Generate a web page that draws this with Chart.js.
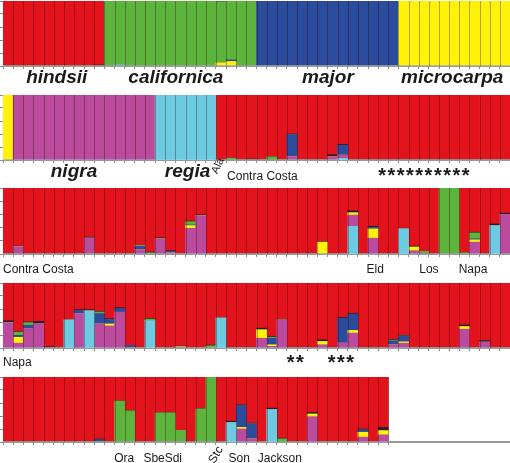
<!DOCTYPE html>
<html>
<head>
<meta charset="utf-8">
<script src="https://cdn.jsdelivr.net/npm/chart.js@4.4.1/dist/chart.umd.min.js"></script>
<style>
  html, body { margin: 0; padding: 0; background: #fff; width: 510px; height: 463px; overflow: hidden; }
  .row { position: absolute; left: 0; width: 510px; height: 93px; }
</style>
</head>
<body>
<div class="row" id="row0"><canvas id="c0"></canvas></div>
<div class="row" id="row1"><canvas id="c1"></canvas></div>
<div class="row" id="row2"><canvas id="c2"></canvas></div>
<div class="row" id="row3"><canvas id="c3"></canvas></div>
<div class="row" id="row4"><canvas id="c4"></canvas></div>
<script>
// stacking order, bottom -> top
const CLUSTERS = ['cyan', 'magenta', 'yellow', 'blue', 'green', 'dark', 'red'];
const COLORS = {
    red: '#e3131d', green: '#5db43c', blue: '#2b4b9d', yellow: '#fff10a',
    magenta: '#bb4b9c', cyan: '#6dcbe1', dark: '#2a1c24',
};
const BASE_KEY = { R: 'red', G: 'green', B: 'blue', Y: 'yellow', M: 'magenta', C: 'cyan' };
const N_SLOTS = 50;

// dominant cluster of each individual, one letter per bar
const ROW1_BASE = 'RRRRRRRRRR' + 'GGGGGGGGGGGGGGG' + 'BBBBBBBBBBBBBB' + 'YYYYYYYYYYY';
const ROW2_BASE = 'Y' + 'MMMMMMMMMMMMMM' + 'CCCCCC' + 'RRRRRRRRRRRRRRRRRRRRRRRRRRRRR';
const ROW3_BASE = 'RRRRRRRRRRRRRRRRRRRRRRRRRRRRRRRRRRRRRRRRRRR' + 'GG' + 'RRRRR';
const ROW4_BASE = 'RRRRRRRRRRRRRRRRRRRRRRRRRRRRRRRRRRRRRRRRRRRRRRRRRR';
const ROW5_BASE = 'RRRRRRRRRRRRRRRRRRRR' + 'G' + 'RRRRRRRRRRRRRRRRR';

// admixed shares per bar: [bar index, {cluster: proportion}]
const ROW1_ADMIX = [
    [9, { dark: 0.015 }],
    [11, { cyan: 0.015 }],
    [21, { yellow: 0.05, dark: 0.01 }],
    [22, { yellow: 0.07, blue: 0.025 }],
];
const ROW2_ADMIX = [
    [22, { green: 0.03 }],
    [24, { dark: 0.015 }],
    [26, { green: 0.05 }],
    [28, { magenta: 0.05, blue: 0.34, dark: 0.01 }],
    [32, { magenta: 0.05, dark: 0.03 }],
    [33, { cyan: 0.025, magenta: 0.05, blue: 0.15, dark: 0.015 }],
];
const ROW3_ADMIX = [
    [1, { magenta: 0.11, dark: 0.01 }],
    [8, { magenta: 0.24, dark: 0.015 }],
    [10, { dark: 0.01 }],
    [13, { magenta: 0.065, blue: 0.05, green: 0.015 }],
    [14, { green: 0.02, dark: 0.01 }],
    [15, { magenta: 0.23, dark: 0.015 }],
    [16, { magenta: 0.02, blue: 0.02, dark: 0.01 }],
    [17, { green: 0.01 }],
    [18, { magenta: 0.39, yellow: 0.04, blue: 0.01, green: 0.05, dark: 0.01 }],
    [19, { magenta: 0.58, dark: 0.015 }],
    [21, { green: 0.01 }],
    [24, { dark: 0.01 }],
    [31, { yellow: 0.18, dark: 0.01 }],
    [34, { cyan: 0.42, magenta: 0.17, yellow: 0.035, dark: 0.03 }],
    [36, { magenta: 0.24, yellow: 0.14, blue: 0.02, dark: 0.02 }],
    [39, { cyan: 0.38, dark: 0.01 }],
    [40, { magenta: 0.05, yellow: 0.055, dark: 0.015 }],
    [41, { magenta: 0.01, green: 0.03 }],
    [45, { green: 0.02 }],
    [46, { magenta: 0.18, yellow: 0.035, blue: 0.015, green: 0.09, dark: 0.01 }],
    [48, { cyan: 0.43, dark: 0.025 }],
    [49, { magenta: 0.6, dark: 0.02 }],
];
const ROW4_ADMIX = [
    [0, { magenta: 0.39, dark: 0.03 }],
    [1, { magenta: 0.075, yellow: 0.09, blue: 0.03, green: 0.05, dark: 0.01 }],
    [2, { magenta: 0.3, blue: 0.05, green: 0.04, dark: 0.01 }],
    [3, { magenta: 0.38, dark: 0.03 }],
    [4, { magenta: 0.01, dark: 0.01 }],
    [6, { cyan: 0.43, dark: 0.01 }],
    [7, { magenta: 0.53, blue: 0.05, dark: 0.01 }],
    [8, { cyan: 0.57, dark: 0.02 }],
    [9, { magenta: 0.37, blue: 0.16, green: 0.025, dark: 0.01 }],
    [10, { magenta: 0.34, yellow: 0.03, blue: 0.07, dark: 0.01 }],
    [11, { magenta: 0.55, blue: 0.06, dark: 0.01 }],
    [12, { magenta: 0.01, blue: 0.03 }],
    [14, { cyan: 0.42, green: 0.025, dark: 0.01 }],
    [16, { dark: 0.01 }],
    [17, { magenta: 0.01, yellow: 0.01, dark: 0.01 }],
    [20, { green: 0.035, dark: 0.01 }],
    [21, { cyan: 0.46, dark: 0.01 }],
    [22, { dark: 0.01 }],
    [25, { magenta: 0.15, yellow: 0.13, dark: 0.025 }],
    [26, { magenta: 0.025, yellow: 0.025, blue: 0.1, green: 0.015, dark: 0.01 }],
    [27, { magenta: 0.43, dark: 0.01 }],
    [31, { magenta: 0.05, yellow: 0.05, dark: 0.025 }],
    [33, { magenta: 0.075, blue: 0.38, dark: 0.015 }],
    [34, { magenta: 0.23, yellow: 0.04, blue: 0.25, dark: 0.015 }],
    [36, { dark: 0.01 }],
    [38, { magenta: 0.05, blue: 0.06, green: 0.01, dark: 0.01 }],
    [39, { magenta: 0.075, yellow: 0.02, blue: 0.09, dark: 0.01 }],
    [45, { magenta: 0.29, yellow: 0.04, dark: 0.025 }],
    [47, { magenta: 0.09, dark: 0.025 }],
];
const ROW5_ADMIX = [
    [9, { blue: 0.03, dark: 0.015 }],
    [11, { green: 0.63 }],
    [12, { green: 0.48 }],
    [15, { green: 0.45 }],
    [16, { green: 0.45 }],
    [17, { green: 0.18 }],
    [19, { green: 0.51 }],
    [22, { cyan: 0.3, dark: 0.02 }],
    [23, { magenta: 0.2, yellow: 0.025, blue: 0.33, dark: 0.015 }],
    [24, { magenta: 0.05, blue: 0.23, dark: 0.01 }],
    [26, { cyan: 0.5, dark: 0.02 }],
    [27, { green: 0.05, dark: 0.01 }],
    [30, { magenta: 0.39, yellow: 0.04, dark: 0.025 }],
    [35, { magenta: 0.075, yellow: 0.075, blue: 0.035, dark: 0.015 }],
    [37, { magenta: 0.11, yellow: 0.065, dark: 0.05 }],
];

// text under each row; "at" is measured in bar widths from the left edge
const BIG = 'italic bold 19px "Liberation Sans", Arial, sans-serif';
const SMALL = '12px "Liberation Sans", Arial, sans-serif';
const STARS = 'bold 20px "Liberation Sans", Arial, sans-serif';
const ROW1_TEXT = [
    { text: 'hindsii', at: 5.3, dy: 17, font: BIG },
    { text: 'californica', at: 17.05, dy: 17, font: BIG },
    { text: 'major', at: 32.05, dy: 17, font: BIG },
    { text: 'microcarpa', at: 44.3, dy: 17, font: BIG },
];
const ROW2_TEXT = [
    { text: 'nigra', at: 7.0, dy: 17, font: BIG },
    { text: 'regia', at: 18.2, dy: 17, font: BIG },
    { text: 'Ala', at: 21.2, dy: 6, font: '11px "Liberation Sans", Arial, sans-serif', rot: -65, mid: true },
    { text: 'Contra Costa', at: 22.1, dy: 20, font: SMALL, align: 'left' },
    { text: '**********', at: 37.0, dy: 22, font: STARS, align: 'left', spacing: 1.5 },
];
const ROW3_TEXT = [
    { text: 'Contra Costa', at: 0, dy: 19, font: SMALL, align: 'left' },
    { text: 'Eld', at: 36.7, dy: 19, font: SMALL },
    { text: 'Los', at: 42.0, dy: 19, font: SMALL },
    { text: 'Napa', at: 46.35, dy: 19, font: SMALL },
];
const ROW4_TEXT = [
    { text: 'Napa', at: 0, dy: 18, font: SMALL, align: 'left' },
    { text: '**', at: 28.9, dy: 21, font: STARS, spacing: 1.5 },
    { text: '***', at: 33.4, dy: 21, font: STARS, spacing: 1.5 },
];
const ROW5_TEXT = [
    { text: 'Ora', at: 11.95, dy: 19.5, font: SMALL },
    { text: 'Sbe', at: 14.9, dy: 19.5, font: SMALL },
    { text: 'Sdi', at: 16.8, dy: 19.5, font: SMALL },
    { text: 'Stc', at: 21.0, dy: 13, font: SMALL, rot: -60, mid: true },
    { text: 'Son', at: 23.3, dy: 19.5, font: SMALL },
    { text: 'Jackson', at: 27.3, dy: 19.5, font: SMALL },
];

const ROWS = [
    { base: ROW1_BASE, admix: ROW1_ADMIX, text: ROW1_TEXT, top: 1, axis: 66 },
    { base: ROW2_BASE, admix: ROW2_ADMIX, text: ROW2_TEXT, top: 95, axis: 160 },
    { base: ROW3_BASE, admix: ROW3_ADMIX, text: ROW3_TEXT, top: 188, axis: 254 },
    { base: ROW4_BASE, admix: ROW4_ADMIX, text: ROW4_TEXT, top: 283, axis: 348 },
    { base: ROW5_BASE, admix: ROW5_ADMIX, text: ROW5_TEXT, top: 377, axis: 442 },
];

function buildSeries(base, admix) {
    const series = {};
    for (const k of CLUSTERS) series[k] = new Array(N_SLOTS).fill(0);
    const mixAt = new Map(admix);
    for (let i = 0; i < base.length; i++) {
        const mix = mixAt.get(i) || {};
        let rest = 1;
        for (const k in mix) { series[k][i] += mix[k]; rest -= mix[k]; }
        series[BASE_KEY[base[i]]][i] += rest;
    }
    return series;
}

// thin dark lines between individuals
const separators = {
    id: 'separators',
    afterDatasetsDraw(chart, args, opts) {
        const { ctx, chartArea: a } = chart;
        const w = (a.right - a.left) / N_SLOTS;
        ctx.save();
        ctx.strokeStyle = 'rgba(40,0,0,0.32)';
        ctx.lineWidth = 1;
        ctx.beginPath();
        for (let i = 1; i <= opts.count; i++) {
            const x = Math.round(a.left + i * w) + 0.5;
            ctx.moveTo(x, a.top);
            ctx.lineTo(x, a.bottom);
        }
        ctx.stroke();
        ctx.restore();
    },
};

const rowText = {
    id: 'rowText',
    afterDraw(chart, args, opts) {
        const { ctx, chartArea: a } = chart;
        const w = (a.right - a.left) / N_SLOTS;
        ctx.save();
        ctx.fillStyle = '#1a1a1a';
        for (const t of opts.items) {
            const x = a.left + t.at * w;
            const y = a.bottom + t.dy;
            ctx.font = t.font;
            ctx.letterSpacing = (t.spacing || 0) + 'px';
            ctx.textAlign = t.align || 'center';
            ctx.textBaseline = t.mid ? 'middle' : 'alphabetic';
            ctx.save();
            ctx.translate(x, y);
            if (t.rot) ctx.rotate(t.rot * Math.PI / 180);
            ctx.fillText(t.text, 0, 0);
            ctx.restore();
        }
        ctx.restore();
    },
};

ROWS.forEach((row, r) => {
    const box = document.getElementById('row' + r);
    box.style.top = (row.top - 1) + 'px';
    const padBottom = 93 - 1 - (row.axis - row.top) - 3;
    const series = buildSeries(row.base, row.admix);
    const n = row.base.length;
    const labels = Array.from({ length: N_SLOTS }, (_, i) => String(i + 1));

    new Chart(document.getElementById('c' + r), {
        type: 'bar',
        data: {
            labels,
            datasets: CLUSTERS.map(k => ({
                label: k,
                data: series[k],
                backgroundColor: COLORS[k],
                borderWidth: 0,
                barPercentage: 1,
                categoryPercentage: 1,
            })),
        },
        options: {
            animation: false,
            responsive: true,
            maintainAspectRatio: false,
            events: [],
            layout: { padding: { top: 1, left: 0, right: 0, bottom: padBottom } },
            plugins: {
                legend: { display: false },
                tooltip: { enabled: false },
                separators: { count: n },
                rowText: { items: row.text },
            },
            scales: {
                x: {
                    stacked: true,
                    grid: {
                        drawOnChartArea: false,
                        tickLength: 3,
                        color: ctx => (ctx.index <= n ? '#8a8a8a' : 'rgba(0,0,0,0)'),
                    },
                    border: { display: true, color: '#9a9a9a', width: 1 },
                    ticks: { display: false },
                },
                y: {
                    stacked: true,
                    min: 0,
                    max: 1,
                    grid: { drawOnChartArea: false, tickLength: 3, color: '#8a8a8a' },
                    border: { display: false },
                    ticks: { display: false, stepSize: 0.2 },
                },
            },
        },
        plugins: [separators, rowText],
    });
});
</script>
</body>
</html>
